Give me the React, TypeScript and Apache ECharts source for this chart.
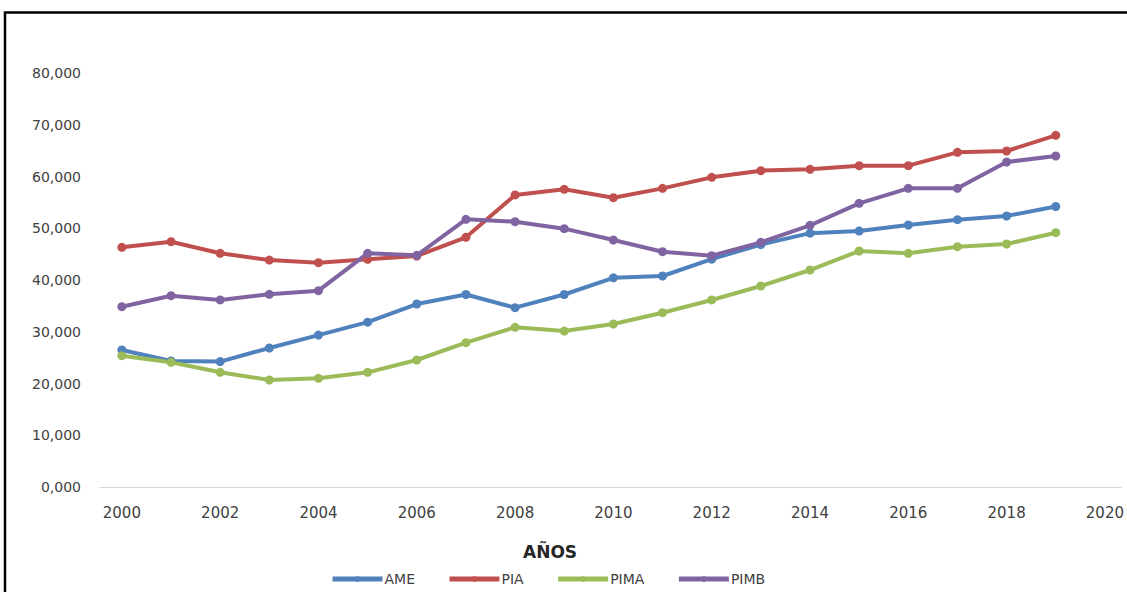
import React, { useEffect, useRef } from "react";
import * as echarts from "echarts";

// Years on the horizontal axis
const years = [
  2000, 2001, 2002, 2003, 2004, 2005, 2006, 2007, 2008, 2009,
  2010, 2011, 2012, 2013, 2014, 2015, 2016, 2017, 2018, 2019,
];

// Series values
const ame = [
  26470, 24350, 24230, 26860, 29350, 31850, 35360, 37200, 34650, 37200,
  40420, 40770, 44030, 46860, 49050, 49470, 50630, 51660, 52370, 54200,
];
const pia = [
  46320, 47400, 45160, 43860, 43340, 44000, 44640, 48250, 56430, 57530,
  55910, 57710, 59840, 61130, 61390, 62090, 62090, 64670, 64930, 67960,
];
const pima = [
  25370, 24100, 22160, 20680, 21000, 22160, 24540, 27890, 30860, 30140,
  31500, 33680, 36140, 38840, 41930, 45600, 45160, 46430, 46960, 49140,
];
const pimb = [
  34840, 36970, 36140, 37240, 37930, 45160, 44770, 51730, 51270, 49920,
  47730, 45470, 44700, 47280, 50570, 54820, 57720, 57720, 62800, 63960,
];

// Tick labels on the year axis
const xTicks = [2000, 2002, 2004, 2006, 2008, 2010, 2012, 2014, 2016, 2018, 2020];

const seriesNames = ["AME", "PIA", "PIMA", "PIMB"];
const seriesColors = ["#4F81BD", "#C0504D", "#9BBB59", "#8064A2"];
const seriesValues = [ame, pia, pima, pimb];

const FONT = "DejaVu Sans";
const TEXT = "#404040";

export default function App() {
  const ref = useRef<HTMLDivElement>(null);

  useEffect(() => {
    if (!ref.current) return;
    const chart = echarts.init(ref.current, null, { renderer: "svg" });

    const series = seriesNames.map((name, i) => ({
      name,
      type: "line",
      data: years.map((y, j) => [y, seriesValues[i][j]]),
      symbol: "circle",
      symbolSize: 9,
      lineStyle: { width: 4, color: seriesColors[i] },
      itemStyle: { color: seriesColors[i] },
      emphasis: { disabled: true },
    }));

    chart.setOption({
      animation: false,
      backgroundColor: "#ffffff",
      grid: { left: 100, right: 0, top: 73, bottom: 105, containLabel: false },
      xAxis: {
        type: "value",
        min: 1999.555,
        max: 2020.34,
        axisLine: { show: true, lineStyle: { color: "#d9d9d9", width: 1 } },
        axisTick: { show: false },
        splitLine: { show: false },
        axisLabel: {
          customValues: xTicks,
          formatter: (v: number) => String(v),
          fontFamily: FONT,
          fontSize: 15,
          color: TEXT,
          margin: 18,
        },
      },
      yAxis: {
        type: "value",
        min: 0,
        max: 80000,
        interval: 10000,
        axisLine: { show: false },
        axisTick: { show: false },
        splitLine: { show: false },
        axisLabel: {
          formatter: (v: number) => (v / 1000).toFixed(3).replace(".", ","),
          fontFamily: FONT,
          fontSize: 14,
          color: TEXT,
          margin: 19,
        },
      },
      legend: {
        data: seriesNames,
        left: 325,
        top: 567,
        itemWidth: 50,
        itemHeight: 7,
        itemGap: 32,
        lineStyle: { width: 5 },
        textStyle: { fontFamily: FONT, fontSize: 14, color: TEXT, padding: [0, 0, 0, -3] },
      },
      graphic: [
        {
          type: "rect",
          shape: { x: 5, y: 12.5, width: 1300, height: 800 },
          style: { fill: "none", stroke: "#000000", lineWidth: 2.5 },
          silent: true,
        },
        {
          type: "text",
          left: 553 - 30,
          top: 543,
          style: {
            text: "AÑOS",
            fontFamily: FONT,
            fontSize: 17,
            fontWeight: "bold",
            fill: "#262626",
          },
        },
      ],
      series,
    });

    return () => chart.dispose();
  }, []);

  return (
    <div
      ref={ref}
      style={{ position: "fixed", left: 0, top: 0, width: 1127, height: 592 }}
    />
  );
}
